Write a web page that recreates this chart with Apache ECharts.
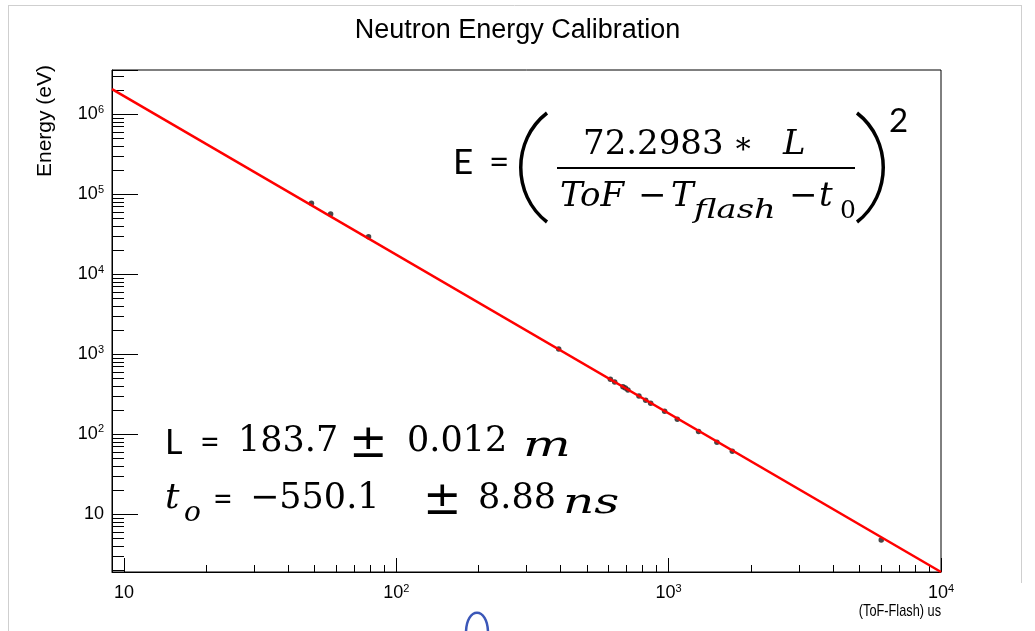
<!DOCTYPE html>
<html><head><meta charset="utf-8">
<script src="https://cdn.jsdelivr.net/npm/echarts@6/dist/echarts.min.js"></script>
<style>html,body{margin:0;padding:0;background:#fff}#c{width:1035px;height:631px}</style>
</head><body><div id="c"></div>
<script>
// ---- data ----
const chartTitle = 'Neutron Energy Calibration';
const xAxisName = '(ToF-Flash) us';
const yAxisName = 'Energy (eV)';
const tof = [48.8, 57.4, 79.1, 394.7, 611, 633.8, 679.6, 693.5, 708.9, 778, 823.5, 859, 966.7, 1076, 1288, 1504, 1713, 6033];
const energy = [76600, 56200, 29250, 1155, 483, 447, 390, 376, 355, 299, 264, 242, 192, 153, 107, 78.8, 60.8, 4.73];
const fitTof = [9.04, 10000];
const fitEnergy = [2.05e6, 1.88];
const xRange = [9.04, 10000];
const yRange = [1.88, 3.55e6];
const xDecades = [10, 100, 1000];
const yDecades = [1, 10, 100, 1000, 10000, 100000, 1000000];
const minorMultipliers = [2, 3, 4, 5, 6, 7, 8, 9];

// ---- build ----
const points = tof.map((t, i) => [t, energy[i]]);
const fitLine = fitTof.map((t, i) => [t, fitEnergy[i]]);
const xMinor = [];
xDecades.forEach(d => minorMultipliers.forEach(m => { const v = d * m; if (v > xRange[0] && v < xRange[1]) xMinor.push([v, yRange[0]]); }));
const yMinor = [];
yDecades.forEach(d => minorMultipliers.forEach(m => { const v = d * m; if (v > yRange[0] && v < yRange[1]) yMinor.push([xRange[0], v]); }));

function powLabel(v) {
  const e = Math.log10(v), r = Math.round(e);
  if (Math.abs(e - r) > 1e-6) return '';
  if (r === 1) return '{b|10}';
  return '{b|10}{s|' + r + '}';
}
const richLab = {
  b: { fontSize: 18, fontFamily: 'Liberation Sans', color: '#000', lineHeight: 20 },
  s: { fontSize: 11, fontFamily: 'Liberation Sans', color: '#000', lineHeight: 11, verticalAlign: 'top' }
};

const serif = '"DejaVu Serif"';
const sans = 'Lato';
function T(text, x, y, font, extra) {
  const st = Object.assign({ text: text, font: font, fill: '#000', textAlign: 'left', textVerticalAlign: 'middle' }, (extra && extra.style) || {});
  const el = Object.assign({ type: 'text', x: x, y: y, silent: true }, extra || {});
  el.style = st;
  return el;
}
function seg(x1, y1, x2, y2, color, w) {
  return { type: 'line', silent: true, shape: { x1, y1, x2, y2 }, style: { stroke: color, lineWidth: w } };
}
function curve(x1, y1, cx1, cy1, cx2, cy2, x2, y2, color, w) {
  return { type: 'bezierCurve', silent: true, shape: { x1, y1, cpx1: cx1, cpy1: cy1, cpx2: cx2, cpy2: cy2, x2, y2 }, style: { stroke: color, lineWidth: w, fill: null } };
}

const graphics = [
  // canvas border lines (light grey)
  seg(8.5, 5, 8.5, 631, '#cfcfcf', 1),
  seg(8, 5.5, 1021, 5.5, '#cfcfcf', 1),
  seg(1021.5, 5, 1021.5, 583, '#cfcfcf', 1),
  // axis names
  T(yAxisName, 45, 65, '21px "Liberation Sans"', { rotation: Math.PI / 2, style: { textAlign: 'right' } }),
  T(xAxisName, 941, 611, '17px "Liberation Sans"', { scaleX: 0.75, style: { textAlign: 'right' } }),
  // formula
  T('E', 453, 163, '35px ' + sans),
  T('=', 489, 163, '35px ' + sans),
  curve(547, 113, 512, 140, 512, 195, 547, 222, '#000', 3.5),
  T('72.2983', 583, 145, '34px ' + serif),
  T('\u2217', 733, 145, '30px ' + serif),
  T('L', 783, 145, 'italic 34px ' + serif),
  seg(557, 168, 855, 168, '#000', 2),
  T('ToF', 560, 197, 'italic 34px ' + serif),
  T('\u2212', 638, 197, '34px ' + serif),
  T('T', 671, 197, 'italic 34px ' + serif),
  T('flash', 694, 211, 'italic 26px ' + serif, { scaleX: 1.3 }),
  T('\u2212', 789, 197, '34px ' + serif),
  T('t', 819, 197, 'italic 34px ' + serif),
  T('0', 840, 211, '25px ' + serif),
  curve(857, 113, 892, 140, 892, 195, 857, 222, '#000', 3.5),
  T('2', 889, 121, '33px ' + sans),
  // L line
  T('L', 165, 443, '34px ' + sans),
  T('=', 200, 443, '34px ' + sans),
  T('183.7', 238, 442, '35px ' + serif),
  T('\u00B1', 349, 445, '46px ' + serif),
  T('0.012', 407, 442, '35px ' + serif),
  T('m', 523, 447, 'italic 36px ' + serif, { scaleX: 1.4 }),
  // t0 line
  T('t', 165, 499, 'italic 36px ' + serif),
  T('o', 184, 514, 'italic 28px ' + serif),
  T('=', 213, 500, '34px ' + sans),
  T('\u2212550.1', 250, 499, '35px ' + serif),
  T('\u00B1', 423, 502, '46px ' + serif),
  T('8.88', 478, 499, '35px ' + serif),
  T('ns', 563, 504, 'italic 36px ' + serif, { scaleX: 1.35 }),
  // blue arc at bottom
  curve(466, 633, 466, 606, 488, 606, 488, 633, '#3b57b8', 2.5)
];

const chart = echarts.init(document.getElementById('c'), null, { renderer: 'canvas' });
chart.setOption({
  backgroundColor: '#fff',
  animation: false,
  title: {
    text: chartTitle, left: 'center', top: 12,
    textStyle: { fontFamily: 'Liberation Sans', fontSize: 27, fontWeight: 'normal', color: '#000' }
  },
  grid: { left: 112, right: 94, top: 70, bottom: 59, show: true, borderColor: '#000', borderWidth: 1, backgroundColor: 'transparent' },
  xAxis: {
    type: 'log', logBase: 10, min: xRange[0], max: xRange[1],
    axisLine: { show: true, lineStyle: { color: '#000', width: 1 } },
    axisTick: { show: true, inside: true, length: 14, lineStyle: { color: '#000' } },
    axisLabel: { formatter: powLabel, rich: richLab, margin: 11, hideOverlap: false, showMinLabel: true, showMaxLabel: true },
    splitLine: { show: false }, minorTick: { show: false }
  },
  yAxis: {
    type: 'log', logBase: 10, min: yRange[0], max: yRange[1],
    axisLine: { show: true, lineStyle: { color: '#000', width: 1 } },
    axisTick: { show: true, inside: true, length: 26, lineStyle: { color: '#000' } },
    axisLabel: { formatter: powLabel, rich: richLab, margin: 8, hideOverlap: false, showMinLabel: true, showMaxLabel: true },
    splitLine: { show: false }, minorTick: { show: false }
  },
  series: [
    {
      type: 'custom', data: xMinor, silent: true, z: 3,
      renderItem: (params, api) => {
        const p = api.coord([api.value(0), api.value(1)]);
        const x = Math.round(p[0]) + 0.5;
        return { type: 'line', shape: { x1: x, y1: p[1], x2: x, y2: p[1] - 7 }, style: { stroke: '#000', lineWidth: 1 } };
      }
    },
    {
      type: 'custom', data: yMinor, silent: true, z: 3,
      renderItem: (params, api) => {
        const p = api.coord([api.value(0), api.value(1)]);
        const y = Math.round(p[1]) + 0.5;
        return { type: 'line', shape: { x1: p[0], y1: y, x2: p[0] + 12, y2: y }, style: { stroke: '#000', lineWidth: 1 } };
      }
    },
    {
      type: 'scatter', data: points, symbol: 'circle', symbolSize: 5.5, z: 4,
      itemStyle: { color: '#1a1a1a' }, silent: true
    },
    {
      type: 'line', data: fitLine, showSymbol: false, z: 5, clip: true,
      lineStyle: { color: '#ff0000', width: 2.5 }, silent: true
    }
  ],
  graphic: graphics
});
</script>
</body></html>
